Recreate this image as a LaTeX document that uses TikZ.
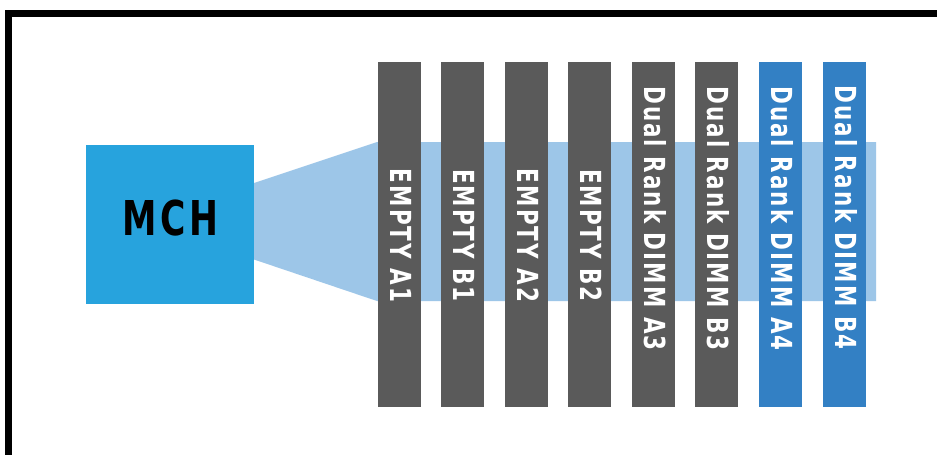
\documentclass[tikz,border=0pt]{standalone}
\usepackage{fontspec}
\setmainfont{DejaVu Sans}
\newfontfamily\dimmfont[FakeStretch=0.74, LetterSpace=7]{DejaVu Sans}
\newfontfamily\chipfont[FakeStretch=0.72, LetterSpace=8.5]{DejaVu Sans}
\definecolor{mchblue}{RGB}{39,163,221}
\definecolor{bandblue}{RGB}{157,198,232}
\definecolor{bargray}{RGB}{90,90,90}
\definecolor{barblue}{RGB}{51,128,196}
\tikzset{
  dimmbar/.style={rectangle, fill=#1, minimum width=43pt, minimum height=345pt, inner sep=0pt, outer sep=0pt, anchor=north west},
  dimmlabel/.style={text=white, rotate=-90, inner sep=0pt, font=\dimmfont\bfseries\fontsize{29}{31}\selectfont},
  chip/.style={rectangle, fill=mchblue, minimum width=168pt, minimum height=158.5pt, inner sep=0pt, outer sep=0pt},
  chiplabel/.style={text=black, inner sep=0pt, font=\chipfont\bfseries\fontsize{48}{50}\selectfont}
}
\begin{document}
\begin{tikzpicture}[x=1pt, y=-1pt]
\clip (0,0) rectangle (937,455);
\fill[white] (0,0) rectangle (937,455);
% frame
\draw[line width=7.5pt, line cap=rect] (8.3,470) -- (8.3,13.3) -- (950,13.3);
% band from MCH to the DIMM slots
\fill[bandblue] (254,183) -- (377,142) -- (876,142) -- (876,301) -- (377,301) -- (254,259.5) -- cycle;
% MCH
\node[chip] (mch) at (170,224.5) {};
\node[chiplabel] (mchlabel) at (170.5,218.5) {MCH};
% DIMM bars
\node[dimmbar=bargray] (a1) at (378,62) {};
\node[dimmbar=bargray] (b1) at (441,62) {};
\node[dimmbar=bargray] (a2) at (505,62) {};
\node[dimmbar=bargray] (b2) at (568,62) {};
\node[dimmbar=bargray] (a3) at (632,62) {};
\node[dimmbar=bargray] (b3) at (695,62) {};
\node[dimmbar=barblue] (a4) at (759,62) {};
\node[dimmbar=barblue] (b4) at (823,62) {};
% labels
\node[dimmlabel] (la1) at ([xshift=1.5pt,yshift=-1pt]a1.center) {EMPTY A1};
\node[dimmlabel] (lb1) at ([xshift=1.5pt,yshift=-1pt]b1.center) {EMPTY B1};
\node[dimmlabel] (la2) at ([xshift=1.5pt,yshift=-1pt]a2.center) {EMPTY A2};
\node[dimmlabel] (lb2) at ([xshift=1.5pt,yshift=-1pt]b2.center) {EMPTY B2};
\node[dimmlabel] (la3) at ([xshift=1.5pt,yshift=16pt]a3.center) {Dual Rank DIMM A3};
\node[dimmlabel] (lb3) at ([xshift=1.5pt,yshift=16pt]b3.center) {Dual Rank DIMM B3};
\node[dimmlabel] (la4) at ([xshift=1.5pt,yshift=16pt]a4.center) {Dual Rank DIMM A4};
\node[dimmlabel] (lb4) at ([xshift=1.5pt,yshift=17pt]b4.center) {Dual Rank DIMM B4};
\end{tikzpicture}
\end{document}
